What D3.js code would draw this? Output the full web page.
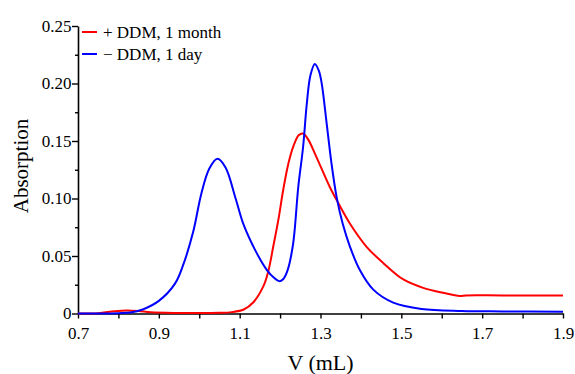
<!DOCTYPE html>
<html>
<head>
<meta charset="utf-8">
<script src="https://cdn.jsdelivr.net/npm/d3@7"></script>
<style>
  html, body { margin: 0; padding: 0; background: #fff; }
</style>
</head>
<body>
<svg id="chart" width="575" height="374"></svg>
<script>
// Elution volume (mL) and absorption for each run
const blueV = [0.70, 0.76, 0.80, 0.83, 0.86, 0.90, 0.94, 0.96, 0.985, 1.005, 1.025, 1.045, 1.065, 1.09, 1.11, 1.14, 1.167, 1.185, 1.198, 1.208, 1.218, 1.232, 1.245, 1.257, 1.266, 1.275, 1.286, 1.296, 1.303, 1.315, 1.327, 1.340, 1.355, 1.373, 1.397, 1.43, 1.48, 1.55, 1.65, 1.75, 1.90];
const blueA = [0, 0, 0.0003, 0.0008, 0.0035, 0.011, 0.026, 0.042, 0.071, 0.104, 0.126, 0.1345, 0.127, 0.100, 0.077, 0.054, 0.038, 0.031, 0.028, 0.030, 0.037, 0.060, 0.110, 0.145, 0.182, 0.207, 0.217, 0.211, 0.200, 0.166, 0.131, 0.101, 0.078, 0.058, 0.038, 0.021, 0.0095, 0.0040, 0.0022, 0.0018, 0.0015];

const redV = [0.70, 0.75, 0.79, 0.82, 0.85, 0.88, 0.95, 1.05, 1.08, 1.11, 1.134, 1.159, 1.171, 1.183, 1.196, 1.208, 1.221, 1.233, 1.246, 1.257, 1.27, 1.29, 1.323, 1.344, 1.373, 1.414, 1.455, 1.505, 1.554, 1.603, 1.645, 1.66, 1.75, 1.90];
const redA = [0, 0.0003, 0.0020, 0.0027, 0.0022, 0.0010, 0.0005, 0.0006, 0.0012, 0.0035, 0.0098, 0.024, 0.037, 0.058, 0.082, 0.108, 0.131, 0.1455, 0.155, 0.1565, 0.151, 0.136, 0.110, 0.096, 0.078, 0.058, 0.044, 0.0296, 0.0223, 0.018, 0.0152, 0.0157, 0.0157, 0.0157];

const xTicks = [0.7, 0.8, 0.9, 1.0, 1.1, 1.2, 1.3, 1.4, 1.5, 1.6, 1.7, 1.8, 1.9];
const xLabels = ["0.7", "0.9", "1.1", "1.3", "1.5", "1.7", "1.9"];
const yMajor = [0, 0.05, 0.10, 0.15, 0.20, 0.25];
const yLabels = ["0", "0.05", "0.10", "0.15", "0.20", "0.25"];
const yMinor = [0.025, 0.075, 0.125, 0.175, 0.225];

const seriesNames = ["+ DDM, 1 month", "\u2212 DDM, 1 day"];
const seriesColors = ["#ff0000", "#0000ff"];

const FONT = '"Liberation Serif", "Times New Roman", "DejaVu Serif", serif';
const margin = { left: 78, right: 12, top: 26, bottom: 60.5 };
const W = 575, H = 374;

const svg = d3.select("#chart");
const x = d3.scaleLinear().domain([0.7, 1.9]).range([margin.left, W - margin.right]);
const y = d3.scaleLinear().domain([0, 0.25]).range([H - margin.bottom, margin.top]);

// x axis: ticks every 0.1, labels every 0.2
const xAxis = d3.axisBottom(x)
  .tickValues(xTicks)
  .tickSize(5)
  .tickSizeOuter(0)
  .tickFormat(d => {
    const s = d3.format(".1f")(d);
    return xLabels.includes(s) ? s : "";
  });
const gx = svg.append("g")
  .attr("transform", `translate(0,${y(0)})`)
  .call(xAxis);
gx.select(".domain").attr("stroke", "#000").attr("stroke-width", 1.6);
gx.selectAll(".tick line").attr("stroke", "#000").attr("stroke-width", 1.4);
gx.selectAll(".tick text")
  .style("font-family", FONT).style("font-size", "17px").attr("fill", "#000")
  .attr("dy", "1.05em");

// y axis: labelled majors plus short minors
const yAxis = d3.axisLeft(y)
  .tickValues(yMajor)
  .tickSize(6)
  .tickSizeOuter(0)
  .tickFormat((d, i) => yLabels[i]);
const gy = svg.append("g")
  .attr("transform", `translate(${x(0.7)},0)`)
  .call(yAxis);
gy.select(".domain").attr("stroke", "#000").attr("stroke-width", 1.6);
gy.selectAll(".tick line").attr("stroke", "#000").attr("stroke-width", 1.4);
gy.selectAll(".tick text")
  .style("font-family", FONT).style("font-size", "17px").attr("fill", "#000")
  .attr("x", -6.5);

const gyMinor = svg.append("g")
  .attr("transform", `translate(${x(0.7)},0)`)
  .call(d3.axisLeft(y).tickValues(yMinor).tickSize(3).tickFormat(""));
gyMinor.select(".domain").remove();
gyMinor.selectAll(".tick line").attr("stroke", "#000").attr("stroke-width", 1.4);

// axis titles
svg.append("text")
  .attr("x", (x(0.7) + x(1.9)) / 2)
  .attr("y", 370)
  .attr("text-anchor", "middle")
  .style("font-family", FONT).style("font-size", "22px")
  .text("V (mL)");

svg.append("text")
  .attr("transform", `translate(28,166) rotate(-90)`)
  .attr("text-anchor", "middle")
  .style("font-family", FONT).style("font-size", "21px")
  .text("Absorption");

// curves
const line = d3.line()
  .x(d => x(d[0]))
  .y(d => y(d[1]))
  .curve(d3.curveCatmullRom.alpha(0.5));

const series = [
  d3.zip(redV, redA),
  d3.zip(blueV, blueA)
];

svg.append("g").selectAll("path")
  .data(series)
  .join("path")
  .attr("d", line)
  .attr("fill", "none")
  .attr("stroke", (d, i) => seriesColors[i])
  .attr("stroke-width", 2)
  .attr("stroke-linejoin", "round");

// legend
const legend = svg.append("g");
seriesNames.forEach((name, i) => {
  const ly = 32 + i * 22;
  legend.append("line")
    .attr("x1", 82).attr("x2", 97)
    .attr("y1", ly).attr("y2", ly)
    .attr("stroke", seriesColors[i])
    .attr("stroke-width", 2);
  legend.append("text")
    .attr("x", 103)
    .attr("y", ly + 5.5)
    .style("font-family", FONT).style("font-size", "17px")
    .text(name);
});
</script>
</body>
</html>
